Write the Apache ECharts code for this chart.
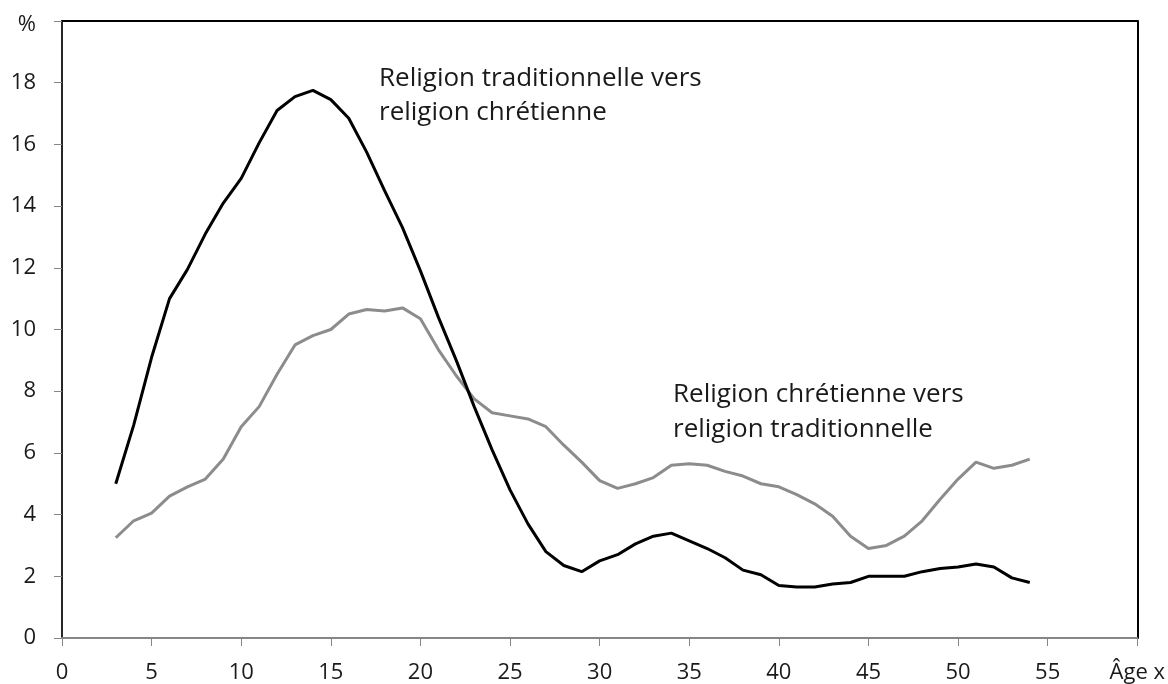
<!DOCTYPE html>
<html><head><meta charset="utf-8">
<script src="https://cdn.jsdelivr.net/npm/echarts@6/dist/echarts.min.js"></script>
<style>html,body{margin:0;padding:0;background:#fff}#c{width:1168px;height:684px}</style>
</head><body><div id="c"></div>
<script>
const ages = [3,4,5,6,7,8,9,10,11,12,13,14,15,16,17,18,19,20,21,22,23,24,25,26,27,28,29,30,31,32,33,34,35,36,37,38,39,40,41,42,43,44,45,46,47,48,49,50,51,52,53,54];
const tradToChr = [5.0,6.9,9.1,11.0,11.95,13.1,14.1,14.9,16.05,17.1,17.55,17.75,17.45,16.85,15.75,14.5,13.3,11.9,10.4,9.0,7.5,6.1,4.8,3.7,2.8,2.35,2.15,2.5,2.7,3.05,3.3,3.4,3.15,2.9,2.6,2.2,2.05,1.7,1.65,1.65,1.75,1.8,2.0,2.0,2.0,2.15,2.25,2.3,2.4,2.3,1.95,1.8];
const chrToTrad = [3.25,3.8,4.05,4.6,4.9,5.15,5.8,6.85,7.5,8.55,9.5,9.8,10.0,10.5,10.65,10.6,10.7,10.35,9.35,8.5,7.75,7.3,7.2,7.1,6.85,6.25,5.7,5.1,4.85,5.0,5.2,5.6,5.65,5.6,5.4,5.25,5.0,4.9,4.65,4.35,3.95,3.3,2.9,3.0,3.3,3.8,4.5,5.15,5.7,5.5,5.6,5.8];
const label1 = ["Religion traditionnelle vers", "religion chrétienne"];
const label2 = ["Religion chrétienne vers", "religion traditionnelle"];
const yTopLabel = "%";
const xEndLabel = "Âge x";

const font = "'Open Sans', sans-serif";
const chart = echarts.init(document.getElementById('c'));
chart.setOption({
  animation: false,
  grid: {left: 62, right: 27, top: 21, bottom: 44},
  xAxis: [{
    type: 'value', min: 0, max: 60, interval: 5,
    axisLine: {show: true, lineStyle: {color: '#868686', width: 2}},
    axisTick: {show: true, length: 8, lineStyle: {color: '#868686', width: 1}},
    splitLine: {show: false},
    axisLabel: {color: '#1a1a1a', fontSize: 22, fontFamily: font, margin: 24,
      formatter: v => v === 60 ? xEndLabel : String(v)}
  }, {
    type: 'value', min: 0, max: 60, position: 'top',
    axisLine: {show: true, onZero: false, lineStyle: {color: '#000', width: 2}},
    axisTick: {show: false}, axisLabel: {show: false}, splitLine: {show: false}
  }],
  yAxis: [{
    type: 'value', min: 0, max: 20, interval: 2,
    axisLine: {show: true, lineStyle: {color: '#262626', width: 2}},
    axisTick: {show: true, length: 8, lineStyle: {color: '#868686', width: 1}},
    splitLine: {show: false},
    axisLabel: {color: '#1a1a1a', fontSize: 22, fontFamily: font, margin: 26,
      formatter: v => v === 20 ? '{p|' + yTopLabel + '}' : String(v),
      rich: {p: {fontSize: 22, fontFamily: font, color: '#1a1a1a', padding: [8, 0, 0, 0]}}}
  }, {
    type: 'value', min: 0, max: 20, position: 'right',
    axisLine: {show: true, onZero: false, lineStyle: {color: '#000', width: 2}},
    axisTick: {show: false}, axisLabel: {show: false}, splitLine: {show: false}
  }],
  series: [{
    type: 'line', name: label1.join(' '), showSymbol: false,
    data: ages.map((a, i) => [a, tradToChr[i]]),
    lineStyle: {color: '#000', width: 3}, z: 3
  }, {
    type: 'line', name: label2.join(' '), showSymbol: false,
    data: ages.map((a, i) => [a, chrToTrad[i]]),
    lineStyle: {color: '#8c8c8c', width: 3}, z: 2
  }],
  graphic: [
    {type: 'text', left: 379, top: 62, style: {text: label1.join('\n'), font: '26px ' + font, fill: '#1a1a1a', lineHeight: 34}},
    {type: 'text', left: 673, top: 377, style: {text: label2.join('\n'), font: '26px ' + font, fill: '#1a1a1a', lineHeight: 35}}
  ]
});
</script></body></html>
